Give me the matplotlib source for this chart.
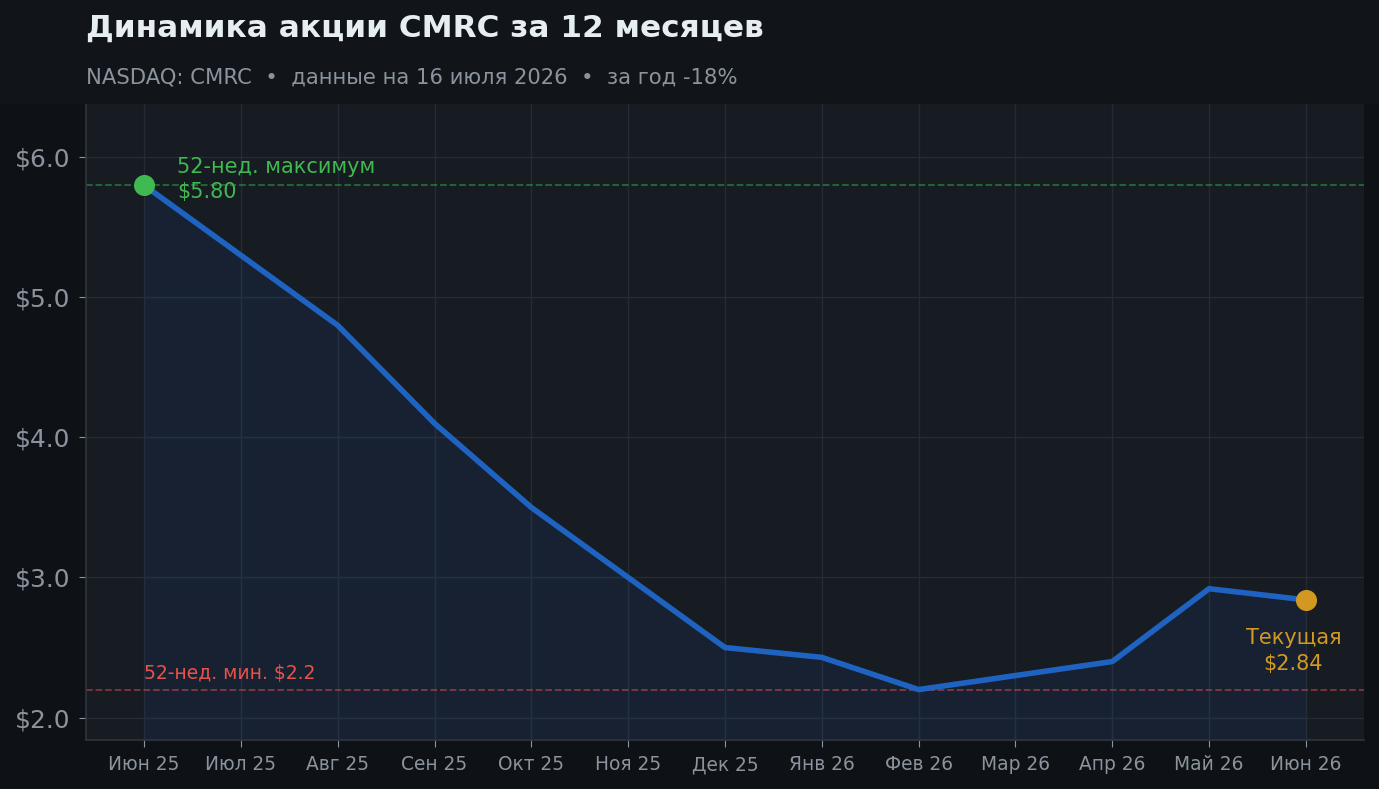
import matplotlib.pyplot as plt
from matplotlib.patches import Rectangle

# данные
months = ['Июн 25', 'Июл 25', 'Авг 25', 'Сен 25', 'Окт 25', 'Ноя 25', 'Дек 25',
          'Янв 26', 'Фев 26', 'Мар 26', 'Апр 26', 'Май 26', 'Июн 26']
prices = [5.80, 5.30, 4.80, 4.10, 3.50, 3.00, 2.50, 2.43, 2.20, 2.30, 2.40, 2.92, 2.84]
high_52w = 5.80
low_52w = 2.2
current = 2.84

plt.rcParams['font.family'] = ['DejaVu Sans']

fig = plt.figure(figsize=(13.79, 7.89), dpi=100, facecolor='#0e1216')
fig.patches.append(Rectangle((0, 1 - 104 / 789), 1, 104 / 789, transform=fig.transFigure,
                             facecolor='#111519', edgecolor='none', zorder=0))
ax = fig.add_axes([86 / 1379, 1 - 740 / 789, (1364 - 86) / 1379, (740 - 104) / 789])
ax.set_facecolor('#171b22')

x = list(range(len(months)))
ax.fill_between(x, prices, 1.0, color='#1f6feb', alpha=0.08, linewidth=0)
ax.plot(x, prices, color='#1f63c2', linewidth=4, solid_capstyle='round', zorder=3)

ax.axhline(high_52w, color='#2ea043', linestyle='--', linewidth=1.3, alpha=0.6, zorder=2)
ax.axhline(low_52w, color='#c94a4a', linestyle='--', linewidth=1.3, alpha=0.6, zorder=2)

ax.scatter([0], [high_52w], s=200, color='#3fb950', zorder=5)
ax.scatter([len(months) - 1], [current], s=200, color='#d29922', zorder=5)

ax.text(0.34, high_52w + 0.04, '52-нед. максимум\n$5.80', color='#3fb950', fontsize=15,
        va='center', ha='left', linespacing=1.35)
ax.text(0, low_52w + 0.05, '52-нед. мин. $2.2', color='#e5534b', fontsize=13.5,
        va='bottom', ha='left')
ax.text(len(months) - 1.13, current - 0.2, 'Текущая\n$2.84', color='#d29922', fontsize=15,
        va='top', ha='center', linespacing=1.35)

ax.set_xlim(-0.6, 12.6)
ax.set_ylim(1.84, 6.38)
ax.set_xticks(x)
ax.set_xticklabels(months)
ax.set_yticks([2, 3, 4, 5, 6])
ax.set_yticklabels(['$2.0', '$3.0', '$4.0', '$5.0', '$6.0'])
ax.tick_params(axis='x', colors='#8b949e', labelsize=13.4, length=5, pad=6)
ax.tick_params(axis='y', colors='#8b949e', labelsize=17.9, length=5, pad=6)
ax.grid(True, color='#262b35', linewidth=1)
ax.set_axisbelow(True)
for s in ['top', 'right']:
    ax.spines[s].set_visible(False)
for s in ['left', 'bottom']:
    ax.spines[s].set_color('#30363d')
    ax.spines[s].set_linewidth(1.2)

fig.text(86 / 1379, 1 - 28 / 789, 'Динамика акции CMRC за 12 месяцев', color='#e6edf3',
         fontsize=22.4, fontweight='bold', va='center', ha='left')
fig.text(86 / 1379, 1 - 77 / 789, 'NASDAQ: CMRC  •  данные на 16 июля 2026  •  за год -18%',
         color='#8b949e', fontsize=15.2, va='center', ha='left')

fig.savefig('out.png', dpi=100, facecolor=fig.get_facecolor())
